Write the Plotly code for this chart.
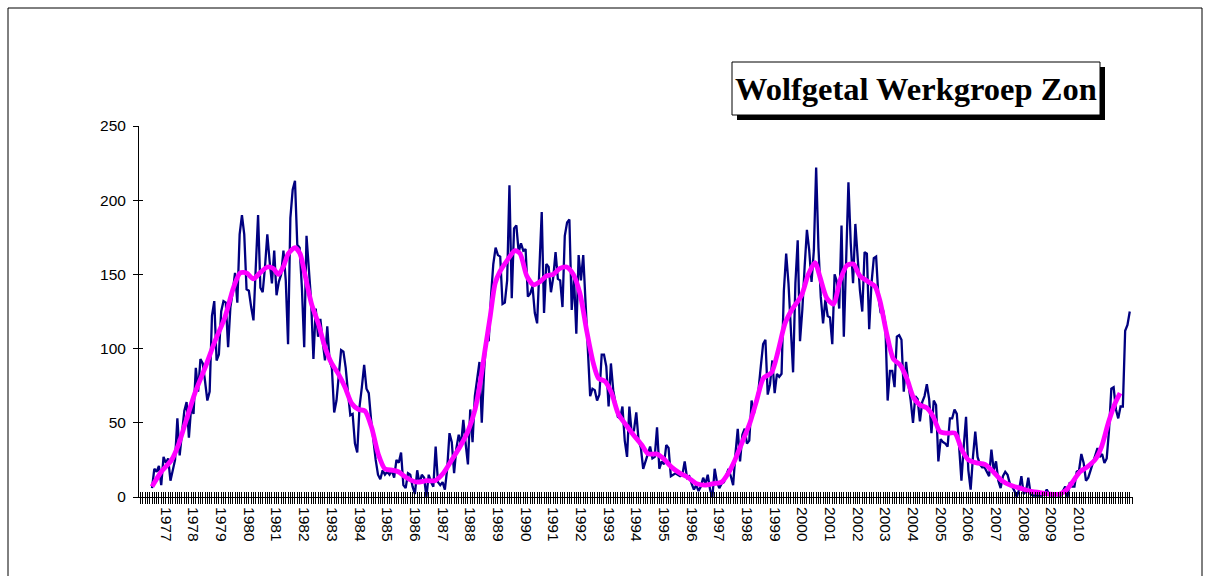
import plotly.graph_objects as go

# Monthly Wolf numbers, starting January 1977 (one row per year)
wolfgetal = [
    6, 19, 17, 21, 8, 27, 23, 26, 11, 18, 25, 53,
    28, 43, 58, 64, 40, 61, 56, 87, 71, 93, 90, 78,
    65, 71, 122, 132, 92, 96, 125, 132, 131, 101, 128, 138,
    151, 131, 177, 190, 177, 140, 139, 128, 119, 155, 190, 141,
    138, 155, 177, 159, 144, 166, 136, 145, 150, 166, 146, 103,
    188, 207, 213, 170, 168, 141, 101, 176, 157, 132, 93, 127,
    108, 120, 105, 92, 115, 92, 87, 57, 65, 81, 99, 98,
    87, 70, 55, 56, 36, 30, 61, 74, 89, 73, 70, 52,
    38, 25, 15, 12, 18, 15, 17, 15, 18, 13, 25, 23,
    30, 8, 6, 16, 15, 7, 2, 18, 9, 15, 13, 0,
    15, 10, 7, 34, 10, 8, 10, 5, 19, 43, 37, 16,
    33, 42, 35, 52, 36, 22, 59, 37, 68, 81, 91, 50,
    85, 108, 105, 135, 157, 168, 163, 162, 130, 131, 146, 210,
    134, 181, 183, 165, 171, 166, 167, 135, 137, 142, 124, 117,
    153, 192, 124, 157, 155, 138, 148, 165, 147, 146, 128, 176,
    185, 187, 126, 148, 110, 163, 146, 163, 131, 101, 68, 73,
    72, 65, 69, 96, 96, 88, 61, 90, 72, 63, 54, 53,
    61, 38, 27, 61, 43, 45, 57, 38, 33, 19, 24, 29,
    34, 26, 27, 47, 19, 24, 22, 35, 33, 14, 15, 16,
    15, 14, 15, 24, 13, 14, 9, 5, 8, 4, 7, 13,
    9, 15, 5, 0, 19, 10, 6, 9, 10, 15, 19, 14,
    8, 29, 46, 24, 42, 46, 36, 38, 65, 56, 63, 72,
    88, 103, 106, 69, 76, 92, 70, 83, 81, 83, 139, 164,
    144, 112, 84, 144, 173, 105, 126, 155, 180, 166, 145, 166,
    222, 168, 135, 117, 133, 122, 121, 103, 150, 145, 127, 183,
    108, 159, 212, 171, 144, 184, 162, 139, 125, 165, 164, 113,
    144, 161, 162, 135, 124, 126, 117, 65, 85, 85, 74, 108,
    109, 106, 71, 91, 76, 65, 50, 68, 66, 51, 64, 68,
    76, 66, 43, 65, 62, 24, 39, 37, 36, 34, 53, 53,
    59, 56, 34, 11, 34, 54, 18, 5, 27, 44, 27, 22,
    20, 20, 17, 14, 32, 18, 24, 11, 6, 14, 17, 15,
    9, 7, 4, 0, 5, 14, 2, 4, 13, 2, 1, 1,
    1, 1, 1, 2, 5, 2, 1, 1, 2, 1, 1, 4,
    7, 0, 10, 7, 7, 17, 18, 29, 23, 11, 13, 18,
    23, 27, 33, 27, 29, 23, 26, 45, 73, 74, 59, 53,
    61, 61, 112, 116, 125,
]

# Smoothed curve (month index since Jan 1977, value)
smooth_month = [
    0, 4, 8.5, 11.4, 14.3, 18.6, 23, 27.3, 31.6, 35.3, 38.2, 41, 43.9, 46.8, 50.1,
    52.6, 54.8, 56.9, 59.1, 62, 64.2, 66.3, 69.2, 72.1, 75, 77.9, 80.8, 83.7, 86.6,
    89.5, 92.3, 95.2, 98.1, 101, 104.6, 106.8, 110.4, 114.8, 119.1, 122.7, 126.3,
    130, 133.6, 137.2, 140.1, 142.2, 144.4, 146.6, 148.8, 150.9, 153.8, 157.4,
    159.6, 162.5, 165.4, 168.2, 171.1, 174, 176.9, 179.8, 182.7, 185.6, 188.5,
    191.4, 193.6, 196.4, 199.3, 202.2, 205.8, 208.7, 212.4, 215.2, 218.9, 221.7,
    225.4, 229, 232.6, 236.2, 239.8, 243.4, 247, 249.9, 252.8, 255.7, 259.3, 262.2,
    265.1, 268.7, 271.6, 274.5, 277.4, 281.7, 284.6, 287.5, 289.7, 292.6, 295.5,
    298.4, 301.3, 304.1, 307, 310.6, 313.5, 315.7, 318.6, 321.5, 324.4, 327.3,
    330.2, 333, 336, 338.8, 341.7, 344.6, 348.2, 351.1, 354, 357.6, 361.2, 364.8,
    368.5, 372.1, 376.4, 380.7, 385.1, 389.4, 393.8, 396.7, 399.6, 402.4, 405.3,
    408.9, 411.8, 414.7, 417.6, 419.8,
]
smooth_value = [
    7, 17, 25, 35, 49, 70, 87, 105, 121, 141, 151, 151, 147, 151, 155,
    154, 150, 155, 164, 168, 164, 150, 130, 117, 101, 90, 83, 74, 63,
    59, 58, 47, 29, 19, 18, 17, 13, 10, 11, 11, 16,
    25, 34, 45, 59, 76, 99, 121, 144, 152, 159, 166,
    164, 149, 143, 145, 149, 150, 154, 155, 150, 137, 112,
    90, 80, 78, 70, 56, 48, 42, 35, 29, 29, 26,
    20, 16, 13, 9, 8, 9, 10, 16, 25, 36, 50, 65,
    80, 84, 99, 117, 126, 136, 150, 158, 148, 134, 130,
    146, 156, 157, 149, 145, 142, 132, 110, 93, 89, 80,
    67, 62, 60, 54, 44, 43, 43, 32, 25, 23, 22, 17,
    11, 8, 6, 4, 3, 2, 2, 5, 11, 17, 20,
    25, 34, 50, 63, 70,
]

year_labels = [str(y) for y in range(1977, 2011)]
y_ticks = [0, 50, 100, 150, 200, 250]

title_text = "Wolfgetal Werkgroep Zon"

# ---- geometry (pixels of the 1211x576 canvas) ----
W, H = 1211, 576
L, R, T, B = 139, 1133, 126, 497
x_range = [-5.64, 425.4]
y_range = [0, 250]


def px(xp):
    return (xp - L) / (R - L)


def py(yp):
    return (B - yp) / (B - T)


label_pos = [12 * k + 6 for k in range(len(year_labels))]
tick_font = dict(family="Liberation Sans, Arial, sans-serif", size=15.5, color="black")

fig = go.Figure()
fig.add_trace(go.Scatter(
    x=list(range(len(wolfgetal))), y=wolfgetal, mode="lines",
    line=dict(color="#000080", width=2.3), xaxis="x", yaxis="y",
    showlegend=False, hoverinfo="skip", cliponaxis=False,
))
fig.add_trace(go.Scatter(
    x=smooth_month, y=smooth_value, mode="lines",
    line=dict(color="#FF00FF", width=4.8, shape="spline", smoothing=0.7),
    xaxis="x2", yaxis="y2", showlegend=False, hoverinfo="skip", cliponaxis=False,
))

fig.update_layout(
    width=W, height=H, autosize=False,
    margin=dict(l=L, r=W - R, t=T, b=H - B, pad=0, autoexpand=False),
    paper_bgcolor="white", plot_bgcolor="white",
    xaxis=dict(
        range=x_range, showline=True, linecolor="black", linewidth=1,
        tickmode="array", tickvals=label_pos, ticktext=year_labels, tickangle=90,
        ticks="outside", ticklen=6, tickcolor="black", tickwidth=1,
        minor=dict(tickmode="linear", tick0=0, dtick=1, ticks="outside",
                   ticklen=6, tickcolor="black", tickwidth=1, showgrid=False),
        showgrid=False, zeroline=False, tickfont=tick_font, automargin=False,
        fixedrange=True,
    ),
    xaxis2=dict(
        overlaying="x", anchor="y2", range=x_range, showline=False,
        tickmode="linear", tick0=0, dtick=1, ticks="inside", ticklen=5,
        tickcolor="black", tickwidth=1, showticklabels=False,
        showgrid=False, zeroline=False, automargin=False, fixedrange=True,
    ),
    yaxis=dict(
        range=y_range, showline=True, linecolor="black", linewidth=1,
        tickmode="array", tickvals=y_ticks, ticks="outside", ticklen=5,
        tickcolor="black", tickwidth=1, showgrid=False, zeroline=False,
        tickfont=tick_font, automargin=False, ticklabelstandoff=4, fixedrange=True,
    ),
    yaxis2=dict(
        overlaying="y", anchor="x2", side="left", range=y_range,
        tickmode="array", tickvals=y_ticks, ticks="inside", ticklen=4,
        tickcolor="black", tickwidth=1, showticklabels=False, showline=False,
        showgrid=False, zeroline=False, automargin=False, fixedrange=True,
    ),
    shapes=[
        # outer chart border
        dict(type="rect", xref="paper", yref="paper",
             x0=px(8), x1=px(1202), y0=py(590), y1=py(8),
             line=dict(color="black", width=1), fillcolor="rgba(0,0,0,0)", layer="below"),
        # title shadow
        dict(type="rect", xref="paper", yref="paper",
             x0=px(737), x1=px(1105), y0=py(120), y1=py(67),
             line=dict(color="black", width=0), fillcolor="black"),
        # title box
        dict(type="rect", xref="paper", yref="paper",
             x0=px(732), x1=px(1100), y0=py(115), y1=py(62),
             line=dict(color="black", width=1), fillcolor="white"),
    ],
    annotations=[
        dict(text="<b>" + title_text + "</b>", xref="paper", yref="paper",
             x=px(916), y=py(89), xanchor="center", yanchor="middle", showarrow=False,
             font=dict(family="Liberation Serif, Times New Roman, serif", size=32.5, color="black")),
    ],
)

fig.write_html(
    "out.html",
    config={"displayModeBar": False},
    post_script="document.body.style.margin='0';document.body.style.overflow='hidden';",
)
